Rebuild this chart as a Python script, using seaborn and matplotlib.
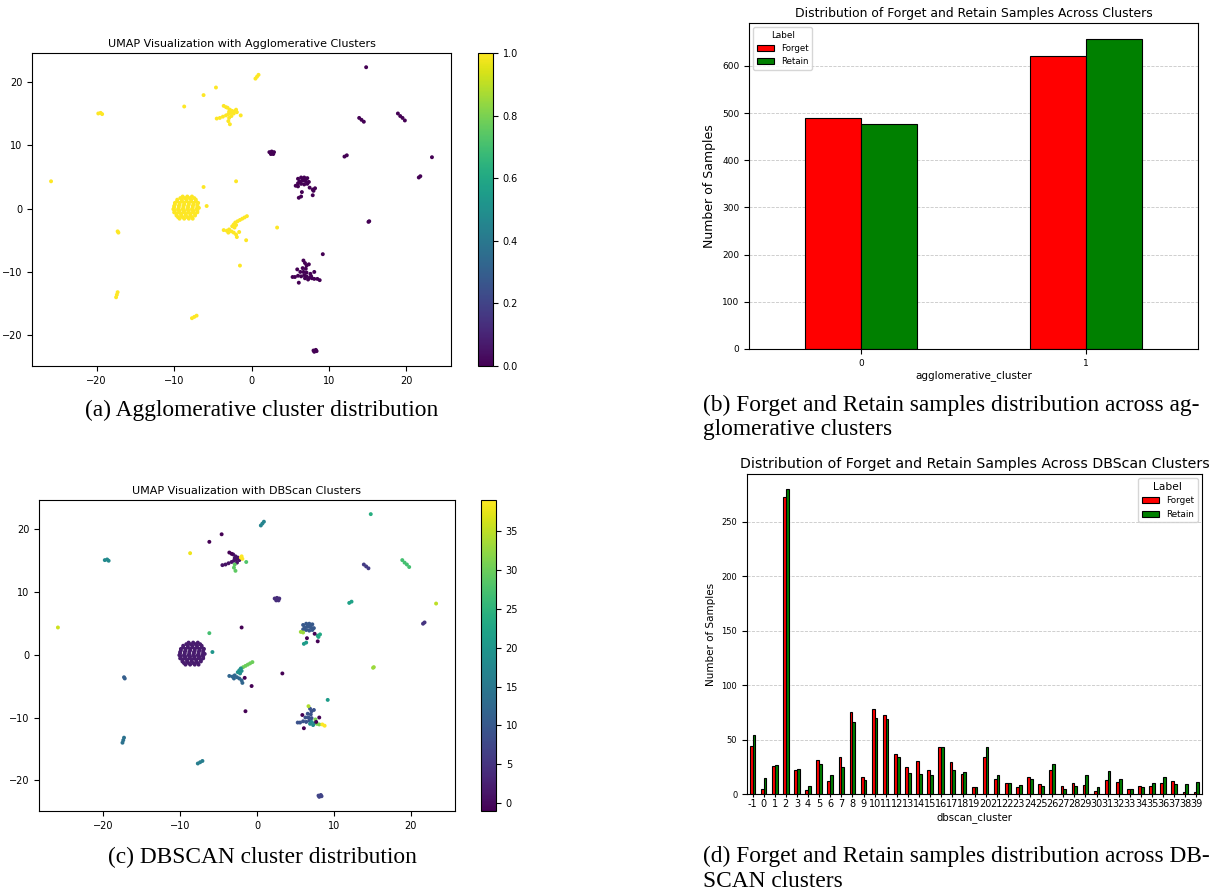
import numpy as np
import pandas as pd
import matplotlib
matplotlib.use("Agg")
import matplotlib.pyplot as plt
import seaborn as sns

# ---- bar data -------------------------------------------------------------
agg_clusters = [0, 1]
agg_forget = [490, 621]
agg_retain = [477, 658]

dbscan_clusters = list(range(-1, 40))
dbscan_forget = [44, 5, 26, 273, 22, 4, 31, 12, 34, 75, 16, 78, 73, 37, 25, 30, 22,
                 43, 29, 18, 6, 34, 14, 10, 6, 16, 9, 22, 7, 10, 8, 3, 13, 11, 5,
                 7, 7, 10, 12, 2, 2]
dbscan_retain = [54, 15, 27, 280, 23, 7, 28, 17, 25, 66, 13, 70, 69, 34, 19, 18, 17,
                 43, 22, 20, 6, 43, 17, 10, 8, 14, 7, 28, 5, 7, 17, 6, 21, 14, 5,
                 6, 10, 16, 9, 9, 11]

# ---- UMAP points: (x, y, dbscan label) per agglomerative cluster ------------
agg1_points = [
    # main blob (dbscan 2)
    (-8.9, 1.9, 2), (-8.3, 1.9, 2), (-7.7, 1.9, 2),
    (-9.2, 1.65, 2), (-8.6, 1.65, 2), (-8.0, 1.65, 2), (-7.4, 1.65, 2),
    (-9.6, 1.4, 2), (-9.0, 1.4, 2), (-8.4, 1.4, 2), (-7.8, 1.4, 2), (-7.2, 1.4, 2),
    (-9.6, 1.15, 2), (-9.0, 1.15, 2), (-8.4, 1.15, 2), (-7.8, 1.15, 2), (-7.2, 1.15, 2),
    (-9.9, 0.9, 2), (-9.3, 0.9, 2), (-8.7, 0.9, 2), (-8.1, 0.9, 2), (-7.5, 0.9, 2), (-6.9, 0.9, 2),
    (-9.9, 0.65, 2), (-9.3, 0.65, 2), (-8.7, 0.65, 2), (-8.1, 0.65, 2), (-7.5, 0.65, 2), (-7.0, 0.65, 2),
    (-10.0, 0.4, 2), (-9.4, 0.4, 2), (-8.8, 0.4, 2), (-8.2, 0.4, 2), (-7.6, 0.4, 2), (-7.0, 0.4, 2),
    (-10.0, 0.15, 2), (-9.4, 0.15, 2), (-8.8, 0.15, 2), (-8.2, 0.15, 2), (-7.6, 0.15, 2), (-7.0, 0.15, 2),
    (-10.1, -0.1, 2), (-9.5, -0.1, 2), (-8.9, -0.1, 2), (-8.3, -0.1, 2), (-7.7, -0.1, 2),
    (-7.1, -0.1, 2), (-6.8, 0.1, 2),
    (-9.9, -0.35, 2), (-9.3, -0.35, 2), (-8.7, -0.35, 2), (-8.1, -0.35, 2), (-7.5, -0.35, 2), (-7.0, -0.35, 2),
    (-10.0, -0.6, 2), (-9.4, -0.6, 2), (-8.8, -0.6, 2), (-8.2, -0.6, 2), (-7.6, -0.6, 2), (-7.0, -0.6, 2),
    (-9.7, -0.85, 2), (-9.1, -0.85, 2), (-8.5, -0.85, 2), (-7.9, -0.85, 2), (-7.3, -0.85, 2),
    (-9.7, -1.1, 2), (-9.1, -1.1, 2), (-8.5, -1.1, 2), (-7.9, -1.1, 2), (-7.3, -1.1, 2),
    (-9.5, -1.35, 2), (-8.9, -1.35, 2), (-8.3, -1.35, 2), (-7.7, -1.35, 2),
    (-9.3, -1.6, 2), (-8.7, -1.6, 2), (-8.1, -1.6, 2), (-7.6, -1.6, 2),
    # small groups
    (-19.8, 15.0, 18), (-19.5, 15.1, 18), (-19.3, 14.9, 18),
    (0.5, 20.5, 17), (0.7, 20.8, 17), (0.9, 21.1, 17),
    (-4.6, 19.1, -1), (-6.2, 17.9, -1), (-8.7, 16.1, 38),
    # star near (-3, 15)
    (-4.5, 14.2, 1), (-4.1, 14.3, 1), (-3.7, 14.5, 1), (-3.3, 14.7, 1), (-3.0, 14.9, 1),
    (-2.7, 15.1, 1), (-2.5, 15.4, 1), (-2.8, 15.6, 1), (-3.1, 15.9, 1), (-2.3, 15.0, 1),
    (-2.6, 14.6, 1), (-2.9, 15.3, 1), (-3.6, 16.2, -1), (-3.3, 16.0, -1),
    (-2.1, 15.4, 39), (-1.9, 15.2, 39), (-2.0, 15.6, 39),
    (-2.9, 14.3, 29), (-3.0, 13.8, 29), (-2.8, 13.3, 29), (-1.4, 14.7, 28),
    (-25.9, 4.3, 36), (-6.2, 3.4, 27), (-2.0, 4.3, -1), (-5.8, 0.4, 20),
    # cross near (-2, -3)
    (-0.6, -1.2, 30), (-0.9, -1.4, 30), (-1.2, -1.6, 30), (-1.5, -1.8, 30), (-1.8, -2.0, 30),
    (-2.1, -2.2, 19), (-2.3, -2.5, 19), (-2.5, -2.8, 19), (-2.2, -3.0, 19), (-2.0, -2.6, 19),
    (-3.6, -3.4, 12), (-3.2, -3.5, 12), (-2.9, -3.3, 12), (-2.6, -3.6, 12), (-2.3, -3.8, 12),
    (-2.0, -4.1, 12), (-1.9, -4.5, 12), (-3.0, -3.8, 12),
    (-1.6, -3.7, -1), (-0.7, -5.0, -1), (3.3, -3.0, -1), (-1.5, -9.0, -1),
    (-17.3, -3.6, 11), (-17.2, -3.8, 11),
    (-17.3, -13.2, 14), (-17.4, -13.6, 14), (-17.5, -14.0, 14),
    (-7.1, -16.9, 16), (-7.4, -17.1, 16), (-7.7, -17.3, 16),
]

agg0_points = [
    (14.8, 22.3, 24),
    (13.9, 14.3, 6), (14.2, 14.0, 6), (14.5, 13.7, 6),
    (18.9, 15.0, 27), (19.2, 14.6, 27), (19.5, 14.3, 27), (19.8, 13.9, 27),
    (2.3, 8.9, 4), (2.6, 9.0, 4), (2.9, 8.9, 4), (2.5, 8.6, 4), (2.8, 8.6, 4),
    (12.0, 8.2, 22), (12.3, 8.4, 22), (23.3, 8.1, 35),
    (21.6, 4.9, 5), (21.8, 5.1, 5),
    # group near (7, 4)
    (6.0, 4.7, 10), (6.4, 4.9, 10), (6.8, 4.9, 10), (7.2, 4.8, 10), (6.2, 4.3, 10),
    (6.6, 4.4, 10), (7.0, 4.3, 10), (7.4, 4.2, 10), (6.4, 3.9, 10), (6.8, 3.8, 10),
    (7.2, 3.9, 10), (6.0, 4.0, 10), (6.6, 4.65, 10), (7.0, 4.6, 10),
    (5.7, 3.6, 33), (6.0, 3.5, 33),
    (7.9, 3.0, 23), (8.2, 3.2, 23), (8.0, 2.8, 23),
    (6.1, 1.7, 21), (6.4, 1.9, 21),
    (6.5, 2.6, -1), (7.9, 2.1, -1), (7.5, 3.3, -1),
    (15.1, -2.1, 33), (15.2, -2.0, 33), (9.2, -7.2, 21),
    # group near (7, -10)
    (6.9, -8.6, 9), (7.1, -9.0, 9), (7.4, -8.8, 9), (6.6, -9.4, 9), (7.0, -9.5, 9),
    (6.3, -10.0, 9), (6.7, -10.0, 9), (7.1, -10.1, 9), (5.6, -10.8, 9), (6.0, -10.6, 9),
    (6.4, -10.7, 9), (6.8, -10.5, 9), (5.3, -10.8, 9),
    (6.9, -11.0, 18), (7.3, -11.2, 18), (7.1, -10.7, 18), (7.5, -10.9, 18),
    (7.8, -11.0, 31), (8.1, -11.1, 31), (7.6, -10.3, 31),
    (8.5, -11.1, 39), (8.8, -11.3, 39), (6.7, -8.2, 34),
    (6.1, -11.7, -1), (5.9, -9.6, -1), (8.1, -10.0, -1), (7.7, -10.7, -1),
    (8.0, -22.4, 7), (8.3, -22.3, 7), (8.4, -22.5, 7), (8.1, -22.6, 7),
]

W, H = 1231, 894


def box(x0, y0, x1, y1):
    """pixel box (top-left origin) -> figure fraction rect"""
    return [x0 / W, 1 - y1 / H, (x1 - x0) / W, (y1 - y0) / H]


def umap_frame():
    rows = [(x, y, 1, d) for x, y, d in agg1_points] + [(x, y, 0, d) for x, y, d in agg0_points]
    return pd.DataFrame(rows, columns=["x", "y", "agglomerative_cluster", "dbscan_cluster"])


def scatter_panel(fig, df, col, rect, cbar_rect, title, ticks):
    ax = fig.add_axes(rect)
    vmin, vmax = df[col].min(), df[col].max()
    sns.scatterplot(data=df, x="x", y="y", hue=col, palette="viridis",
                    hue_norm=(vmin, vmax), s=8, linewidth=0, legend=False, ax=ax)
    ax.set_xlabel("")
    ax.set_ylabel("")
    ax.set_title(title, fontsize=8, pad=4)
    ax.set_xticks([-20, -10, 0, 10, 20])
    ax.set_yticks([-20, -10, 0, 10, 20])
    ax.tick_params(labelsize=7)
    cax = fig.add_axes(cbar_rect)
    sm = plt.cm.ScalarMappable(cmap="viridis", norm=plt.Normalize(vmin, vmax))
    cb = fig.colorbar(sm, cax=cax)
    cb.set_ticks(ticks)
    cb.ax.tick_params(labelsize=7)
    return ax


def bar_panel(fig, clusters, forget, retain, xname, rect, title,
              title_fs, ylabel_fs, xlabel_fs, tick_fs, xtick_fs):
    ax = fig.add_axes(rect)
    df = pd.DataFrame({xname: clusters * 2,
                       "count": forget + retain,
                       "Label": ["Forget"] * len(clusters) + ["Retain"] * len(clusters)})
    sns.barplot(data=df, x=xname, y="count", hue="Label", order=clusters,
                palette={"Forget": "red", "Retain": "green"}, width=0.5,
                edgecolor="black", linewidth=0.8, saturation=1, ax=ax)
    ax.set_axisbelow(True)
    ax.grid(axis="y", linestyle="--", alpha=0.7, linewidth=0.6)
    ax.set_title(title, fontsize=title_fs, pad=4)
    ax.set_ylabel("Number of Samples", fontsize=ylabel_fs)
    ax.set_xlabel(xname, fontsize=xlabel_fs, labelpad=2)
    ax.tick_params(axis="y", labelsize=tick_fs)
    ax.tick_params(axis="x", labelsize=xtick_fs, rotation=0)
    return ax


df_umap = umap_frame()

fig = plt.figure(figsize=(W / 100, H / 100), dpi=100)

# (a) agglomerative scatter
scatter_panel(fig, df_umap, "agglomerative_cluster", box(32, 53, 451, 366),
              box(478, 53, 493, 366), "UMAP Visualization with Agglomerative Clusters",
              [0.0, 0.2, 0.4, 0.6, 0.8, 1.0])

# (c) dbscan scatter
scatter_panel(fig, df_umap, "dbscan_cluster", box(39, 500, 455, 811),
              box(481, 500, 496, 811), "UMAP Visualization with DBScan Clusters",
              [0, 5, 10, 15, 20, 25, 30, 35])

# (b) agglomerative bars
ax_b = bar_panel(fig, agg_clusters, agg_forget, agg_retain, "agglomerative_cluster",
                 box(749, 23, 1198, 349),
                 "Distribution of Forget and Retain Samples Across Clusters",
                 8.9, 9, 7.5, 6.5, 6.5)
ax_b.set_yticks([0, 100, 200, 300, 400, 500, 600])
ax_b.legend(title="Label", loc="upper left", fontsize=6.2, title_fontsize=6.4)

# (d) dbscan bars
ax_d = bar_panel(fig, dbscan_clusters, dbscan_forget, dbscan_retain, "dbscan_cluster",
                 box(747, 474, 1202, 794),
                 "Distribution of Forget and Retain Samples Across DBScan Clusters",
                 10.2, 7.5, 7.3, 6, 7)
ax_d.set_yticks([0, 50, 100, 150, 200, 250])
ax_d.tick_params(axis="x", pad=1, length=2.5)
ax_d.legend(title="Label", loc="upper right", fontsize=6.3, title_fontsize=7.7)

# captions
cap = dict(family="Liberation Serif", fontsize=16.8, color="black")
fig.text(262 / W, 1 - 416 / H, "(a) Agglomerative cluster distribution", ha="center", va="baseline", **cap)
fig.text(703 / W, 1 - 411 / H, "(b) Forget and Retain samples distribution across ag-", ha="left", va="baseline", **cap)
fig.text(703 / W, 1 - 435 / H, "glomerative clusters", ha="left", va="baseline", **cap)
fig.text(262 / W, 1 - 863 / H, "(c) DBSCAN cluster distribution", ha="center", va="baseline", **cap)
fig.text(703 / W, 1 - 862 / H, "(d) Forget and Retain samples distribution across DB-", ha="left", va="baseline", **cap)
fig.text(703 / W, 1 - 887 / H, "SCAN clusters", ha="left", va="baseline", **cap)

fig.savefig("out.png", dpi=100)
